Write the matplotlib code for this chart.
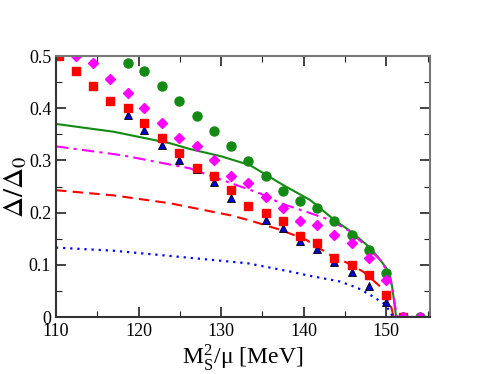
import matplotlib
matplotlib.use("Agg")
import matplotlib.pyplot as plt
from matplotlib.ticker import MultipleLocator

plt.rcParams['font.family'] = ['Liberation Serif', 'DejaVu Serif']
plt.rcParams['mathtext.fontset'] = 'stix'

# x positions of the data points
x_pts = [110.4, 112.4, 114.5, 116.6, 118.7, 120.7, 122.85, 124.9, 127.05, 129.1,
         131.2, 133.3, 135.4, 137.5, 139.5, 141.6, 143.7, 145.8, 147.9, 150.0,
         152.0, 154.1]

green_x = x_pts[4:]
green_y = [0.486, 0.471, 0.443, 0.414, 0.386, 0.357, 0.328, 0.299, 0.271, 0.241,
           0.223, 0.209, 0.184, 0.157, 0.128, 0.085, 0.0, 0.0]

blue_x = x_pts[:21]
blue_y = [0.5, 0.471, 0.443, 0.414, 0.387, 0.358, 0.330, 0.301, 0.283, 0.258,
          0.228, 0.212, 0.186, 0.171, 0.146, 0.130, 0.105, 0.087, 0.059, 0.029, 0.0]

red_x = x_pts[:21]
red_y = [0.5, 0.471, 0.443, 0.414, 0.400, 0.371, 0.343, 0.314, 0.285, 0.271,
         0.243, 0.213, 0.199, 0.184, 0.156, 0.142, 0.114, 0.100, 0.080, 0.042, 0.0]

mag_x = x_pts[1:]
mag_y = [0.5, 0.486, 0.457, 0.429, 0.400, 0.371, 0.343, 0.328, 0.300, 0.271,
         0.256, 0.230, 0.209, 0.184, 0.176, 0.157, 0.141, 0.114, 0.071, 0.0, 0.0]

# curves
gl_x = [110, 117, 123.8, 126.2, 130, 133.5, 137.5, 140.8, 143.7, 145.8, 147.8,
        149.0, 150.0, 150.7, 151.2, 155]
gl_y = [0.370, 0.355, 0.333, 0.322, 0.308, 0.291, 0.253, 0.224, 0.186, 0.163, 0.136,
        0.115, 0.094, 0.060, 0.0, 0.0]

ml_x = [110, 118, 126.2, 131.1, 134.7, 137.2, 140.8, 143.2, 145.5, 147.2, 149.3,
        150.5, 151.3, 155]
ml_y = [0.327, 0.310, 0.285, 0.257, 0.237, 0.218, 0.199, 0.186, 0.165, 0.141, 0.109,
        0.077, 0.0, 0.0]

rl_x = [110, 117, 123.8, 131.1, 133.5, 137.2, 140.3, 143.2, 145.5, 147.2, 149.3,
        150.5, 150.9, 155]
rl_y = [0.243, 0.233, 0.218, 0.195, 0.185, 0.167, 0.148, 0.119, 0.102, 0.087, 0.058,
        0.026, 0.0, 0.0]

bl_x = [110, 117, 123.8, 133.2, 138.4, 140.4, 144.4, 146.5, 148.1, 149.7, 150.5,
        150.8, 155]
bl_y = [0.133, 0.127, 0.117, 0.103, 0.087, 0.080, 0.068, 0.056, 0.042, 0.026, 0.010,
        0.0, 0.0]

green = '#138a13'

fig = plt.figure(figsize=(4.84, 3.74), dpi=100)
ax = fig.add_axes([0.1157, 0.1524, 0.7727, 0.6976])

ax.plot(gl_x, gl_y, '-', color=green, lw=1.5)
ax.plot(ml_x, ml_y, '-.', color='#ff00ff', lw=1.5, dashes=(6, 2.5, 1.5, 2.5))
ax.plot(rl_x, rl_y, '--', color='#ff0000', lw=1.5, dashes=(5, 3))
ax.plot(bl_x, bl_y, ':', color='#0000ff', lw=1.6, dashes=(1, 2.2))
ax.plot([151.5, 155], [0, 0], '-', color='#5a1a6a', lw=2)

ax.plot(green_x, green_y, 'o', color=green, ms=6.5, mec=green, ls='none')
ax.plot(blue_x, blue_y, '^', color='#0000cc', ms=6.3, mec='black', mew=0.6, ls='none')
ax.plot(red_x, red_y, 's', color='#ff0000', ms=5.5, mec='#ff0000', ls='none')
ax.plot(mag_x, mag_y, 'D', color='#ff00ff', ms=4.8, mec='#ff00ff', ls='none')

ax.set_xlim(110, 155.3)
ax.set_ylim(0, 0.5)
ax.xaxis.set_major_locator(MultipleLocator(10))
ax.xaxis.set_minor_locator(MultipleLocator(5))
ax.yaxis.set_major_locator(MultipleLocator(0.1))
ax.yaxis.set_minor_locator(MultipleLocator(0.05))
ax.set_yticks([0, 0.1, 0.2, 0.3, 0.4, 0.5])
ax.set_yticklabels(['0', '0.1', '0.2', '0.3', '0.4', '0.5'])
ax.tick_params(which='both', direction='in', top=True, right=True, labelsize=13,
               color='#222222')
ax.tick_params(which='major', length=7, width=1.2)
ax.tick_params(which='minor', length=4, width=0.8)
ax.tick_params(axis='x', pad=4)
for s in ax.spines.values():
    s.set_color('#777777')
    s.set_linewidth(1.5)
ax.spines['left'].set_color('#333333')
ax.spines['bottom'].set_color('#333333')

ax.set_xlabel(r'M$_\mathregular{S}^\mathregular{2}$/$\mathregular{\mu}$ [MeV]', fontsize=17, labelpad=2)
ax.set_ylabel(r'$\Delta/\Delta_0$', fontsize=21, labelpad=0)

fig.savefig('out.png', dpi=100)
